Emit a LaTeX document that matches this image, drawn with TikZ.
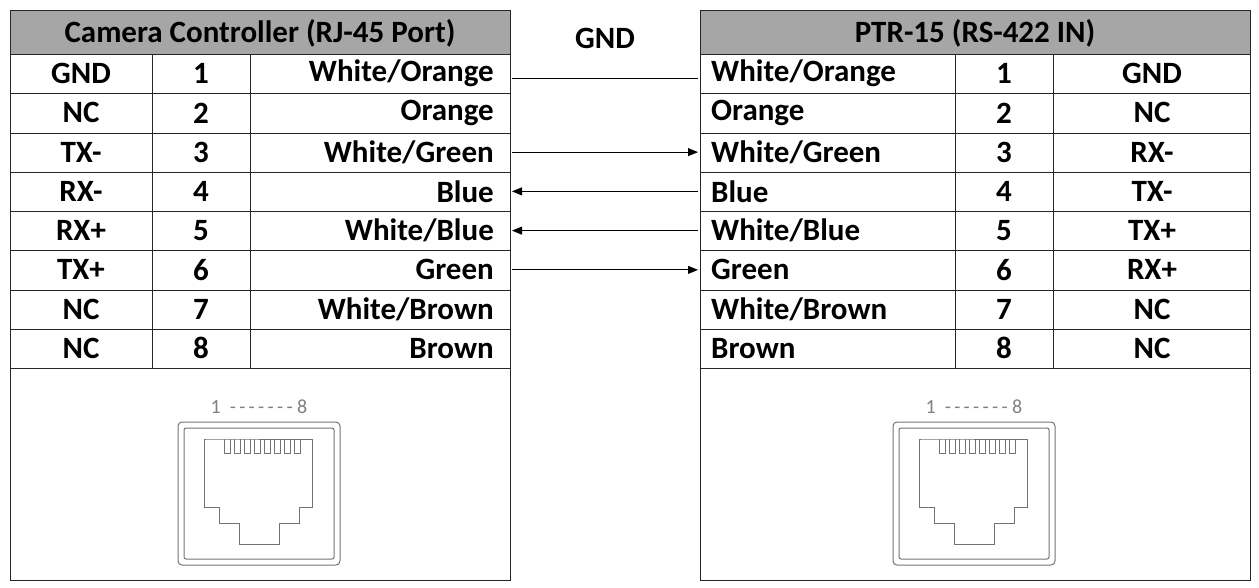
\documentclass[tikz,border=0pt]{standalone}
\usepackage{fontspec}
\setmainfont{Carlito}
\usetikzlibrary{arrows.meta}
\begin{document}
\begin{tikzpicture}[x=1pt,y=-1pt,
  cell/.style={font=\bfseries\fontsize{31}{33}\selectfont,inner sep=0pt},
  grid/.style={draw=black!85,line width=1pt},
  wire/.style={draw=black,line width=0.8pt},
  arr/.style={wire,-{Triangle[length=10pt,width=8pt]}},
  icon/.style={draw=black!55,line width=1pt},
  pics/rj/.style={code={
    \node[text=black!50,font=\fontsize{20}{20}\selectfont] at (0,-52) {1 \ {-}\,{-}\,{-}\,{-}\,{-}\,{-}\,{-}\ 8};
    \draw[icon,rounded corners=4pt] (-81,-37) rectangle (81,106);
    \draw[icon,rounded corners=2pt] (-75,-31) rectangle (75,100);
    \draw[icon] (-52,-20) -- (53,-20) -- (53,48) -- (40,48) -- (40,64) -- (20,64) -- (20,85) -- (-20,85) -- (-20,64) -- (-40,64) -- (-40,48) -- (-55,48) -- (-55,-20) -- cycle;
    \foreach \i in {0,...,7}{\draw[icon,line width=0.7pt] (-35+\i*10,-20) -- (-35+\i*10,-6) -- (-29+\i*10,-6) -- (-29+\i*10,-20);}
  }}]
\useasboundingbox (0,0) rectangle (1259,587);
% left table
\fill[black!35] (10,10) rectangle (510,54);
\draw[grid] (10,10) rectangle (510,580);
\foreach \y in {54,93,133,172,211,250,290,329,368}{\draw[grid] (10,\y) -- (510,\y);}
\draw[grid] (152,54) -- (152,368); \draw[grid] (250,54) -- (250,368);
\node[cell] (lh) at (260,33) {Camera Controller (RJ-45 Port)};
% right table
\fill[black!35] (700,10) rectangle (1250,54);
\draw[grid] (700,10) rectangle (1250,580);
\foreach \y in {54,93,133,172,211,250,290,329,368}{\draw[grid] (700,\y) -- (1250,\y);}
\draw[grid] (955,54) -- (955,368); \draw[grid] (1053,54) -- (1053,368);
\node[cell] (rh) at (975,33) {PTR-15 (RS-422 IN)};
\node[cell] (gnd) at (605,38) {GND};
\foreach [count=\i] \a/\c/\b/\d in {GND/White\slash Orange/White\slash Orange/GND,NC/Orange/Orange/NC,TX-/White\slash Green/White\slash Green/RX-,RX-/Blue/Blue/TX-,RX+/White\slash Blue/White\slash Blue/TX+,TX+/Green/Green/RX+,NC/White\slash Brown/White\slash Brown/NC,NC/Brown/Brown/NC}{
  \pgfmathsetmacro\yy{54+(\i-0.5)*39.25}
  \node[cell] (la\i) at (81,\yy) {\a};
  \node[cell] (ln\i) at (201,\yy) {\i};
  \node[cell,anchor=east] (lc\i) at (494,\yy) {\c};
  \coordinate (lp\i) at (512,\yy);
  \node[cell,anchor=west] (rc\i) at (711,\yy) {\b};
  \node[cell] (rn\i) at (1004,\yy) {\i};
  \node[cell] (ra\i) at (1152,\yy) {\d};
  \coordinate (rp\i) at (698,\yy);
}
\draw[wire] ([yshift=-5pt]lp1) -- ([yshift=-5pt]rp1);
\draw[arr] (lp3) -- (rp3);
\draw[arr] (rp4) -- (lp4);
\draw[arr] (rp5) -- (lp5);
\draw[arr] (lp6) -- (rp6);
\pic at (259,459) {rj};
\pic at (974,459) {rj};
\end{tikzpicture}
\end{document}
